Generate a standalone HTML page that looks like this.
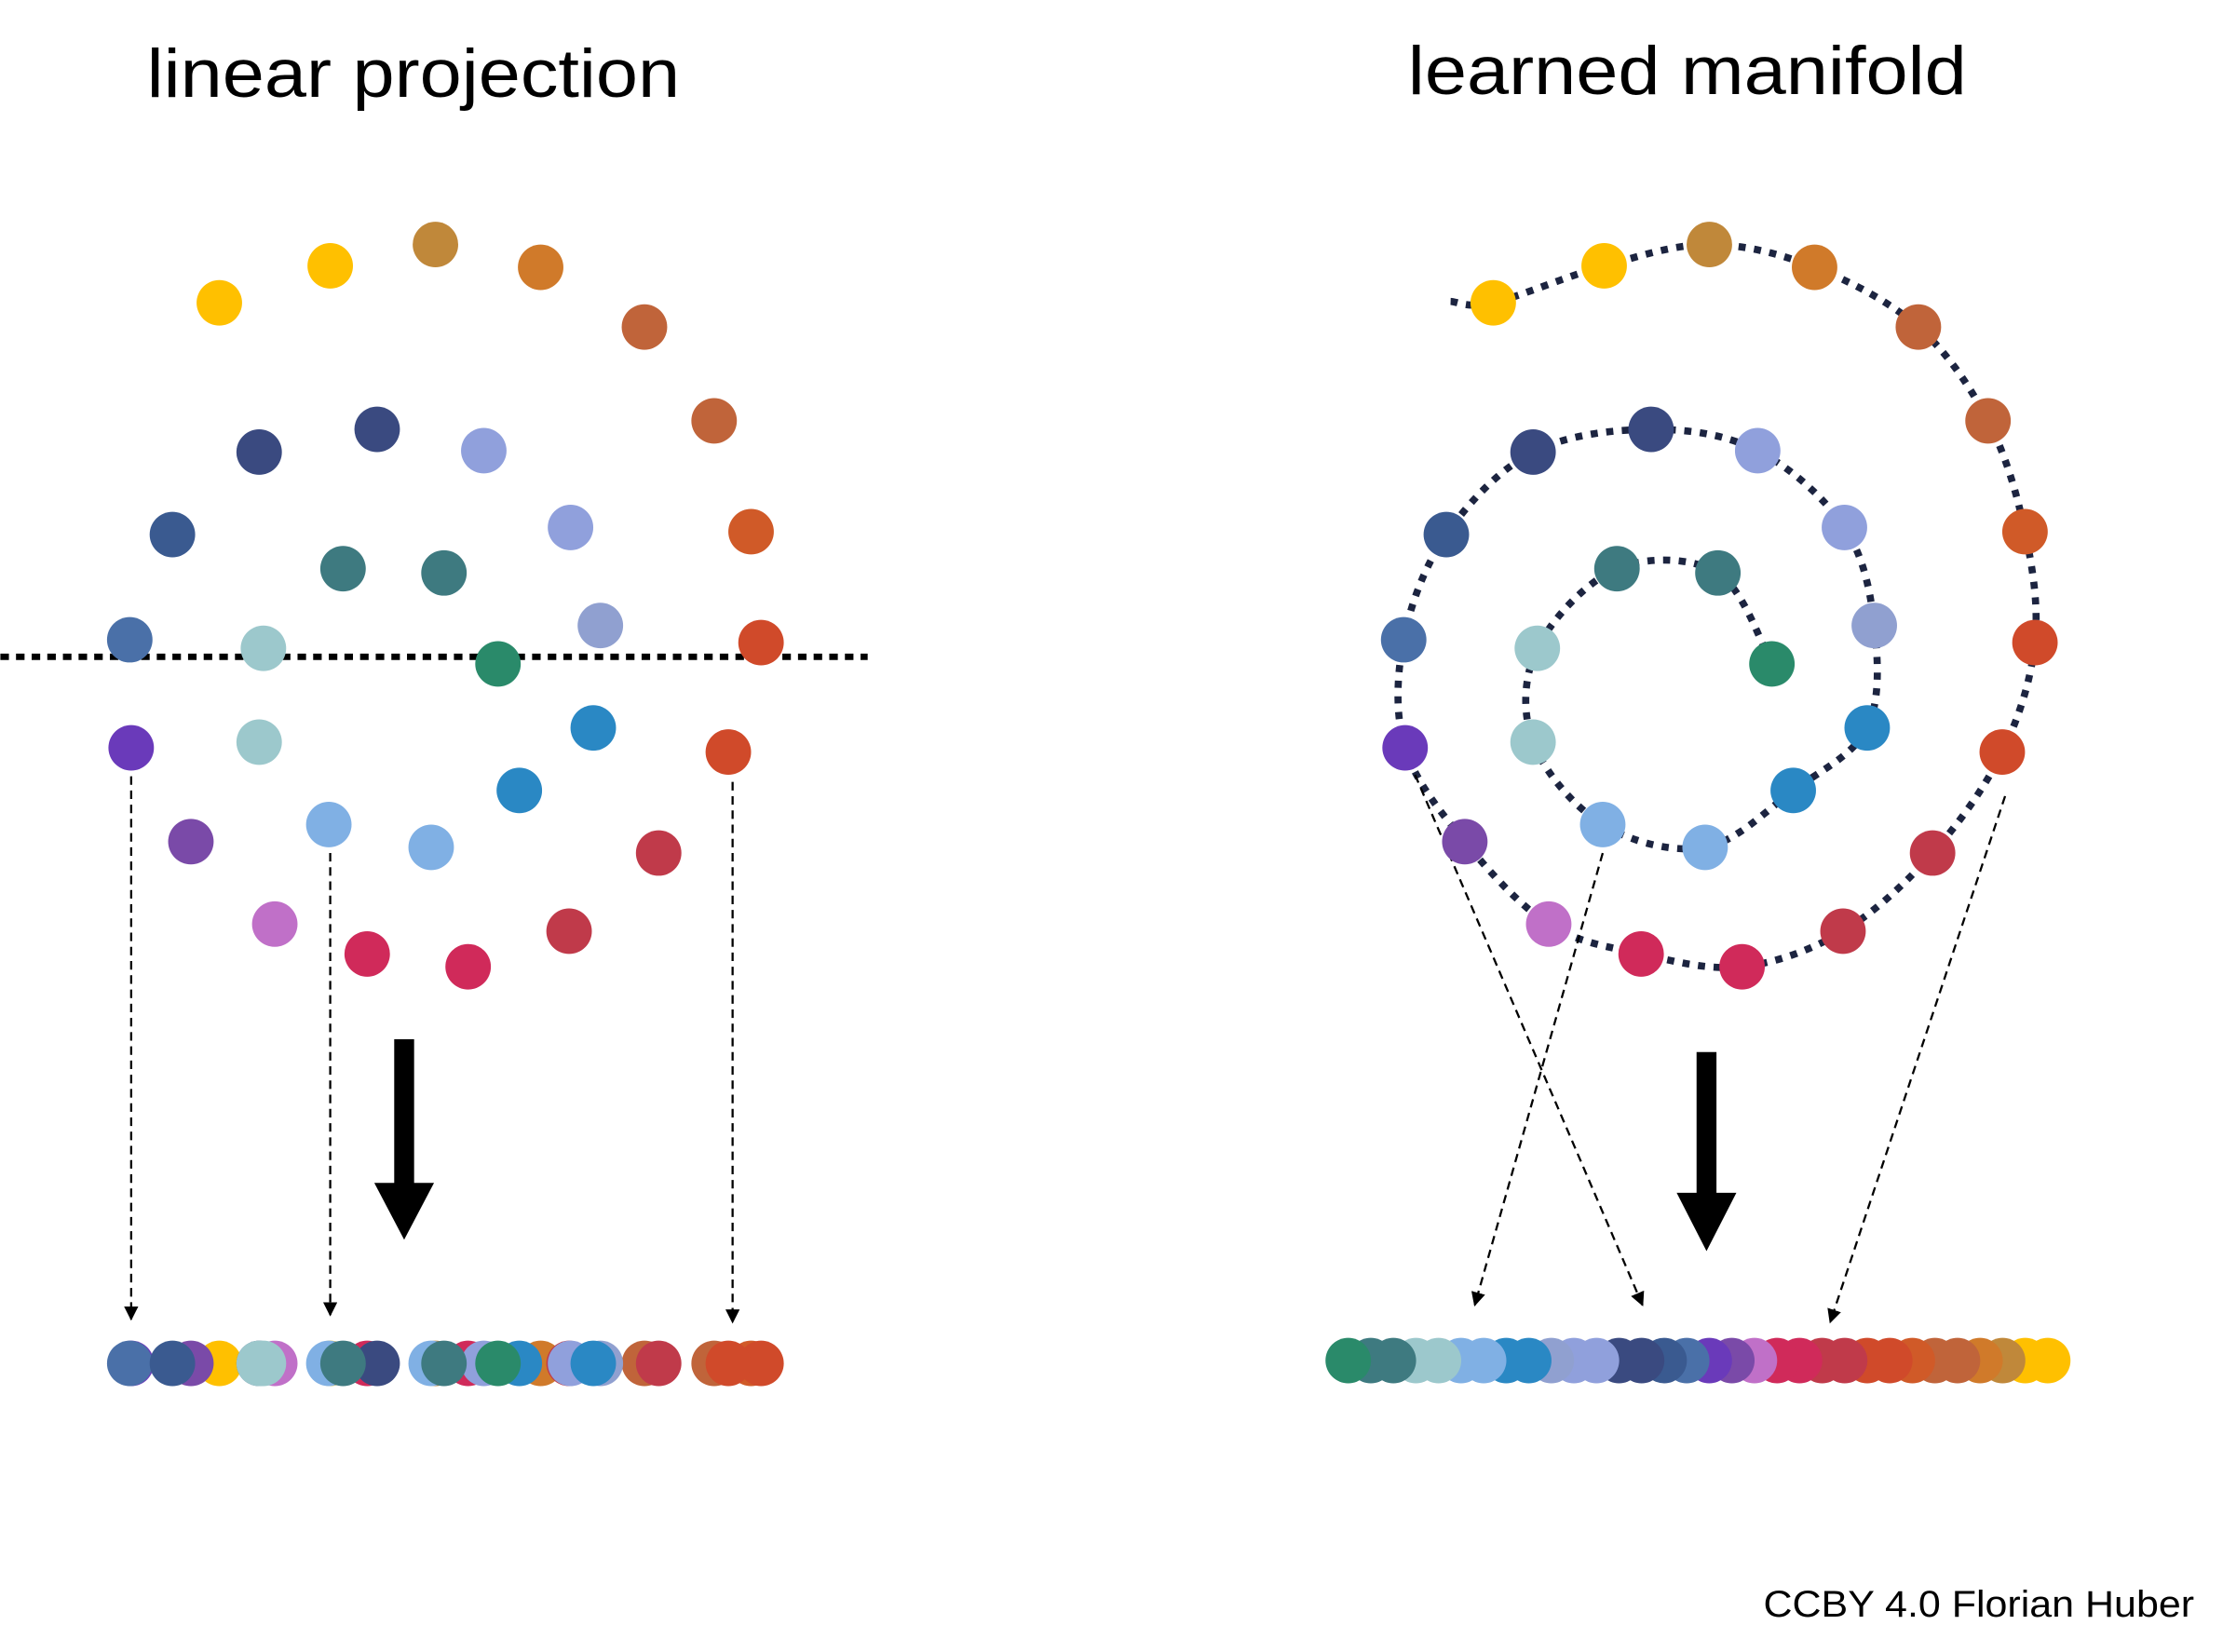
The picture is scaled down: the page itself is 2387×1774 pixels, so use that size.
<!DOCTYPE html>
<html><head><meta charset="utf-8"><style>
html,body{margin:0;padding:0;background:#fff}
svg{display:block}
text{font-family:"Liberation Sans",sans-serif;fill:#000}
</style></head><body>
<svg id="fig" width="2387" height="1774" viewBox="0 0 1563 1162" xmlns="http://www.w3.org/2000/svg">
<defs>
<marker id="ah" markerWidth="10" markerHeight="10" refX="9" refY="5" orient="auto" markerUnits="userSpaceOnUse"><path d="M0,0 L10,5 L0,10 z" fill="#000"/></marker>
</defs>
<text x="103" y="68" font-size="48" textLength="375" lengthAdjust="spacingAndGlyphs">linear projection</text>
<text x="990" y="66" font-size="48" textLength="393" lengthAdjust="spacingAndGlyphs">learned manifold</text>
<text x="1240" y="1137" font-size="26" textLength="303" lengthAdjust="spacingAndGlyphs">CCBY 4.0 Florian Huber</text>
<line x1="0" y1="462" x2="610" y2="462" stroke="#000" stroke-width="4.5" stroke-dasharray="6 5"/>
<g id="spiral"></g>
<g id="arrows">
<line x1="92" y1="546" x2="92" y2="928" stroke="#000" stroke-width="1.5" stroke-dasharray="6 4" marker-end="url(#ah)"/>
<line x1="232" y1="600" x2="232" y2="925" stroke="#000" stroke-width="1.5" stroke-dasharray="6 4" marker-end="url(#ah)"/>
<line x1="515" y1="550" x2="515" y2="930" stroke="#000" stroke-width="1.5" stroke-dasharray="6 4" marker-end="url(#ah)"/>
<line x1="995" y1="545" x2="1155" y2="918" stroke="#000" stroke-width="1.5" stroke-dasharray="6 4" marker-end="url(#ah)"/>
<line x1="1127" y1="600" x2="1037" y2="918" stroke="#000" stroke-width="1.5" stroke-dasharray="6 4" marker-end="url(#ah)"/>
<line x1="1410" y1="560" x2="1287" y2="930" stroke="#000" stroke-width="1.5" stroke-dasharray="6 4" marker-end="url(#ah)"/>
<rect x="277" y="731" width="14" height="102" fill="#000"/>
<path d="M263,832 L305,832 L284,872 z" fill="#000"/>
<rect x="1193" y="740" width="14" height="100" fill="#000"/>
<path d="M1179,839 L1221,839 L1200,880 z" fill="#000"/>
</g>
<g id="dots"></g>
</svg>
<script>
const xs=[154,232,306,380,453,502,528,535,512,463,400,329,258,193,134,92,91,121,182,265,340,401,422,417,365,303,231,182,185,241,312,350];
const ys=[213,187,172,188,230,296,374,452,529,600,655,680,671,650,592,526,450,376,318,302,317,371,440,512,556,596,580,522,456,400,403,467];
const colors=["#FFC000","#FFC000","#C0883A","#D07A2A","#C0643A","#C0643A","#D05A28","#D04A2A","#D04A2A","#C03A4A","#C03A4A","#D02A5A","#D02A5A","#C070C8","#7A4AA8","#6A3ABA","#4A70A8","#3A5A90","#3A4A80","#3A4A80","#90A0DC","#90A0DC","#90A0D0","#2A88C4","#2A88C4","#80B0E4","#80B0E4","#9CC8CC","#9CC8CC","#3E7A80","#3E7A80","#2A8A6A"];
const NS="http://www.w3.org/2000/svg";
const SHIFT=896, R=16, BASE_L=959, BASE_R=957, RX0=1440, RX1=948;
const dots=document.getElementById('dots');
function dot(cx,cy,c,name){const e=document.createElementNS(NS,'circle');e.setAttribute('cx',cx);e.setAttribute('cy',cy);e.setAttribute('r',R);e.setAttribute('fill',c);


dots.appendChild(e);}
const pts=[[1020-SHIFT,212]].concat(xs.map((x,i)=>[x,ys[i]]));
let d=`M${pts[0][0]+SHIFT},${pts[0][1]}`;
for(let i=0;i<pts.length-1;i++){const p0=pts[Math.max(0,i-1)],p1=pts[i],p2=pts[i+1],p3=pts[Math.min(pts.length-1,i+2)];
d+=` C${p1[0]+(p2[0]-p0[0])/6+SHIFT},${p1[1]+(p2[1]-p0[1])/6} ${p2[0]-(p3[0]-p1[0])/6+SHIFT},${p2[1]-(p3[1]-p1[1])/6} ${p2[0]+SHIFT},${p2[1]}`;}
const sp=document.createElementNS(NS,'path');sp.setAttribute('d',d);sp.setAttribute('fill','none');sp.setAttribute('stroke','#1c2440');sp.setAttribute('stroke-width','5');sp.setAttribute('stroke-dasharray','5 6');


document.getElementById('spiral').appendChild(sp);
xs.forEach((x,i)=>dot(x,ys[i],colors[i],'left-point'));
xs.forEach((x,i)=>dot(x,BASE_L,colors[i],'left-projected-point'));
xs.forEach((x,i)=>dot(x+SHIFT,ys[i],colors[i],'right-point'));
const n=xs.length;
xs.forEach((x,i)=>dot(RX0+(RX1-RX0)*i/(n-1),BASE_R,colors[i],'right-unrolled-point'));
</script>
</body></html>
